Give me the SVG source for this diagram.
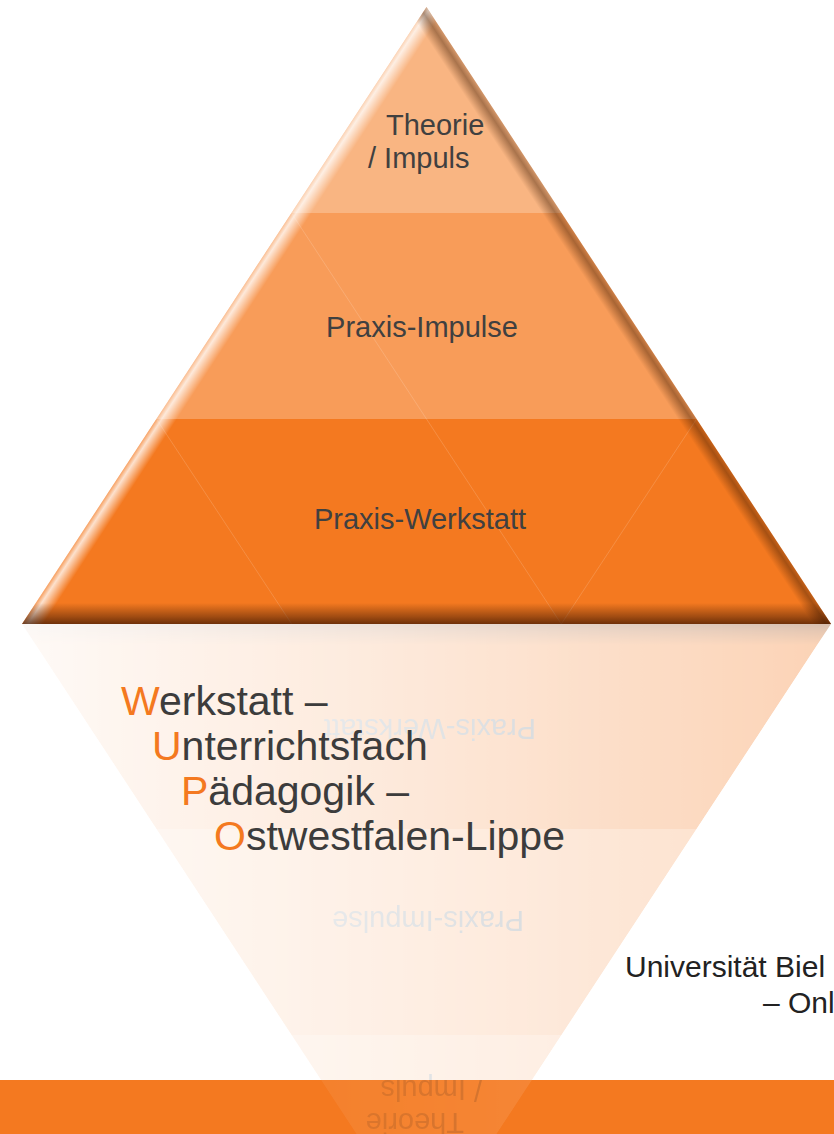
<svg xmlns="http://www.w3.org/2000/svg" xmlns:xlink="http://www.w3.org/1999/xlink" width="834" height="1134" viewBox="0 0 834 1134">
  <style>
    .lbl { font-family: "Liberation Sans", Arial, sans-serif; font-size: 29px; fill: #404040; }
    .rlbl { font-family: "Liberation Sans", Arial, sans-serif; font-size: 29px; fill: #56626c; }
    .big { font-family: "Liberation Sans", Arial, sans-serif; font-size: 41px; fill: #3c3c3c; }
    .ini { fill: #f47920; }
    .uni { font-family: "Liberation Sans", Arial, sans-serif; font-size: 30px; fill: #222222; }
    .seam { stroke: #ffffff; stroke-opacity: 0.2; stroke-width: 0.8; fill: none; }
  </style>
  <defs>
    <clipPath id="tri">
      <polygon points="426.5,7 831,624 22,624"/>
    </clipPath>
    <clipPath id="rtri">
      <polygon points="22,624 831,624 426.5,1241"/>
    </clipPath>
    <linearGradient id="hiL" gradientUnits="userSpaceOnUse" x1="224.25" y1="315.5" x2="238.5" y2="324.8">
      <stop offset="0" stop-color="#ffffff" stop-opacity="0.35"/>
      <stop offset="0.25" stop-color="#ffffff" stop-opacity="0.78"/>
      <stop offset="1" stop-color="#ffffff" stop-opacity="0"/>
    </linearGradient>
    <linearGradient id="shR" gradientUnits="userSpaceOnUse" x1="628.75" y1="315.5" x2="615.4" y2="324.3">
      <stop offset="0" stop-color="#3a1800" stop-opacity="0.22"/>
      <stop offset="0.3" stop-color="#3a1800" stop-opacity="0.42"/>
      <stop offset="1" stop-color="#3a1800" stop-opacity="0"/>
    </linearGradient>
    <linearGradient id="shB" gradientUnits="userSpaceOnUse" x1="0" y1="624" x2="0" y2="603">
      <stop offset="0" stop-color="#3a1400" stop-opacity="0.72"/>
      <stop offset="0.35" stop-color="#3a1400" stop-opacity="0.45"/>
      <stop offset="1" stop-color="#3a1400" stop-opacity="0"/>
    </linearGradient>
    <linearGradient id="shBr" gradientUnits="userSpaceOnUse" x1="0" y1="624" x2="0" y2="645">
      <stop offset="0" stop-color="#3a1400" stop-opacity="0.6"/>
      <stop offset="0.35" stop-color="#3a1400" stop-opacity="0.35"/>
      <stop offset="1" stop-color="#3a1400" stop-opacity="0"/>
    </linearGradient>
    <linearGradient id="rmg" gradientUnits="userSpaceOnUse" x1="22" y1="0" x2="831" y2="0">
      <stop offset="0" stop-color="#ffffff" stop-opacity="0.04"/>
      <stop offset="0.45" stop-color="#ffffff" stop-opacity="0.16"/>
      <stop offset="1" stop-color="#ffffff" stop-opacity="0.33"/>
    </linearGradient>
    <mask id="rmask" maskUnits="userSpaceOnUse" x="0" y="600" width="834" height="534">
      <rect x="0" y="600" width="834" height="534" fill="url(#rmg)"/>
    </mask>
  </defs>

  <rect x="0" y="0" width="834" height="1134" fill="#ffffff"/>

  <!-- footer bar -->
  <g id="footer-bar">
    <rect x="0" y="1080" width="834" height="54" fill="#f47920"/>
  </g>

  <!-- pyramid tiers -->
  <g id="tier-top">
    <polygon points="426.5,7 561.55,213 291.45,213" fill="#f9b582"/>
    <text class="lbl" x="386" y="135">Theorie</text>
    <text class="lbl" x="368" y="168">/ Impuls</text>
  </g>
  <g id="tier-middle">
    <polygon points="291.45,213 561.55,213 696.6,419 156.4,419" fill="#f89c59"/>
    <line class="seam" x1="291.45" y1="213" x2="426.5" y2="419"/>
    <text class="lbl" x="422" y="337" text-anchor="middle">Praxis-Impulse</text>
  </g>
  <g id="tier-bottom">
    <polygon points="156.4,419 696.6,419 831,624 22,624" fill="#f47920"/>
    <line class="seam" x1="156.4" y1="419" x2="291.7" y2="624"/>
    <line class="seam" x1="426.5" y1="419" x2="561.3" y2="624"/>
    <line class="seam" x1="696.6" y1="419" x2="561.3" y2="624"/>
    <text class="lbl" x="420" y="529" text-anchor="middle">Praxis-Werkstatt</text>
  </g>

  <!-- bevel shading -->
  <g id="bevel" clip-path="url(#tri)">
    <rect x="0" y="0" width="834" height="624" fill="url(#hiL)"/>
    <rect x="0" y="0" width="834" height="624" fill="url(#shR)"/>
    <rect x="0" y="600" width="834" height="24" fill="url(#shB)"/>
  </g>

  <!-- reflection -->
  <g id="reflection" mask="url(#rmask)">
    <g clip-path="url(#rtri)">
      <polygon points="22,624 831,624 696.6,829 156.4,829" fill="#f47920"/>
      <polygon points="156.4,829 696.6,829 561.55,1035 291.45,1035" fill="#f89c59"/>
      <polygon points="291.45,1035 561.55,1035 426.5,1241" fill="#f9b582"/>
      <rect x="0" y="624" width="834" height="22" fill="url(#shBr)"/>
    </g>
    <g transform="rotate(180 425 624)">
      <text class="rlbl" x="386" y="135">Theorie</text>
      <text class="rlbl" x="368" y="168">/ Impuls</text>
      <text class="rlbl" x="422" y="337" text-anchor="middle">Praxis-Impulse</text>
      <text class="rlbl" x="420" y="529" text-anchor="middle">Praxis-Werkstatt</text>
    </g>
  </g>

  <!-- title block -->
  <g id="title-block">
    <text class="big" x="121" y="715"><tspan class="ini">W</tspan>erkstatt –</text>
    <text class="big" x="152" y="760"><tspan class="ini">U</tspan>nterrichtsfach</text>
    <text class="big" x="181" y="805"><tspan class="ini">P</tspan>ädagogik –</text>
    <text class="big" x="214" y="850"><tspan class="ini">O</tspan>stwestfalen-Lippe</text>
  </g>

  <!-- university text (cut at right edge) -->
  <g id="university-text">
    <text class="uni" x="625" y="977">Universität Biel</text>
    <text class="uni" x="763" y="1013">– Onl</text>
  </g>

  <g id="connectors"/>
</svg>
